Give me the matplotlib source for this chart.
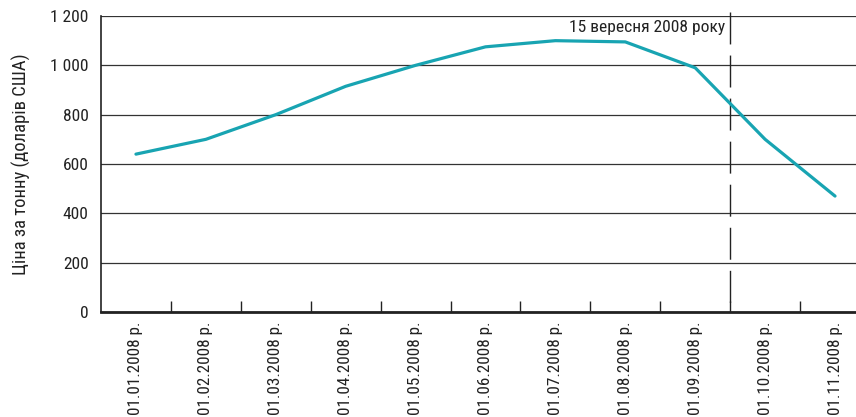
import numpy as np
import matplotlib.pyplot as plt

dates = ["01.01.2008 р.", "01.02.2008 р.", "01.03.2008 р.", "01.04.2008 р.",
         "01.05.2008 р.", "01.06.2008 р.", "01.07.2008 р.", "01.08.2008 р.",
         "01.09.2008 р.", "01.10.2008 р.", "01.11.2008 р."]
price = [640, 700, 800, 915, 1000, 1075, 1100, 1095, 990, 700, 470]
y_ticks = [0, 200, 400, 600, 800, 1000, 1200]
y_labels = ["0", "200", "400", "600", "800", "1 000", "1 200"]
event_label = "15 вересня 2008 року"

plt.rcParams["font.family"] = ["Roboto Condensed", "DejaVu Sans"]
ink = "#222222"

fig = plt.figure(figsize=(8.56, 4.17), dpi=100)
ax = fig.add_axes([101 / 856, 1 - 312 / 417, 1 - 101 / 856, 296 / 417])

x = np.arange(len(dates))
ax.plot(x, price, color="#18a4b2", lw=2.3, solid_capstyle="round", solid_joinstyle="round", zorder=3)

ax.set_yticks(y_ticks)
ax.set_yticklabels(y_labels, fontsize=12.6, color=ink)
ax.tick_params(axis="y", length=0, pad=9)
ax.yaxis.grid(True, color="#333333", lw=0.9)
ax.set_axisbelow(True)

# ticks between months, labels under the months
ax.set_xticks(x + 0.5)
ax.set_xticklabels([])
ax.set_xticks(x, minor=True)
ax.set_xticklabels(dates, minor=True, rotation=90, fontsize=12.3, color=ink, va="top", ha="center")
ax.tick_params(axis="x", which="major", direction="in", length=8, width=1.0, color=ink)
ax.tick_params(axis="x", which="minor", length=0, pad=7)

ax.set_xlim(-0.5, 10.3)
ax.set_ylim(0, 1200)

for s in ["top", "right"]:
    ax.spines[s].set_visible(False)
ax.spines["left"].set_color(ink)
ax.spines["left"].set_linewidth(1.2)
ax.spines["bottom"].set_color(ink)
ax.spines["bottom"].set_linewidth(2.0)

# 15 September 2008 marker
ax.plot([8.5, 8.5], [1216, 0], color=ink, lw=1.0, dashes=(23, 8), clip_on=False, zorder=2)
ax.text(8.43, 1152, event_label, ha="right", va="center", fontsize=12.6, color=ink)

ax.set_ylabel("Ціна за тонну (доларів США)", fontsize=13.4, color=ink, labelpad=14)

fig.savefig("out.png", dpi=100)
